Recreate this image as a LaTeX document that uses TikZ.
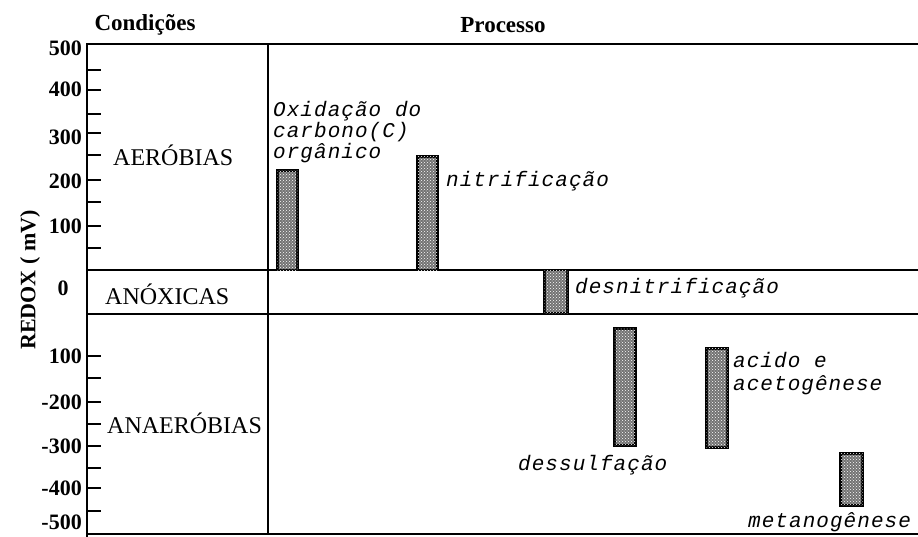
\documentclass[tikz,border=0pt]{standalone}
\usepackage{fontspec}
\setmainfont{Liberation Serif}
\newfontfamily\procfont[LetterSpace=5]{Liberation Mono}
\usetikzlibrary{patterns}

\tikzset{
  frame/.style={line width=2pt},
  tickline/.style={line width=2pt},
  bar/.style={draw, line width=2.6pt, fill=black!55,
    postaction={pattern=crosshatch dots, pattern color=white}},
  ticklabel/.style={anchor=east, inner sep=0pt, font=\fontsize{22}{22}\selectfont\bfseries},
  header/.style={inner sep=0pt, font=\fontsize{23}{23}\selectfont\bfseries},
  region/.style={anchor=west, inner sep=0pt, font=\fontsize{24}{24}\selectfont},
  proc/.style={anchor=west, inner sep=0pt, align=left, font=\fontsize{21}{19.5}\procfont\itshape},
}

\begin{document}
\begin{tikzpicture}[x=1pt, y=-1pt]
    \useasboundingbox (0,0) rectangle (918,536);

    % frame
    \draw[frame] (918,44) -- (87,44) -- (87,540);
    \draw[frame] (268,44) -- (268,534);
    \draw[frame] (87,270) -- (918,270);
    \draw[frame] (87,314) -- (918,314);
    \draw[frame] (87,534) -- (918,534);

    % ticks
    \foreach \y in {70,90,114,133,155,180,202,226,248,356,378,402,424,446,468,488,511}
      \draw[tickline] (87,\y) -- (101,\y);

    % axis labels
    \foreach \y/\t in {48/500, 89/400, 137/300, 181/200, 226/100, 356/100,
                       402/-200, 446/-300, 488/-400, 522/-500}
      \node[ticklabel] (lab\y) at (82,\y) {\t};
    \node[ticklabel, anchor=center] (labzero) at (63,288) {0};
    \node[ticklabel, anchor=center, rotate=90] (redox) at (30,280) {REDOX ( mV)};

    % headers
    \node[header] (cond) at (145,25) {Condições};
    \node[header] (proc) at (503,25) {Processo};

    % conditions
    \node[region] (aer) at (113,155) {AERÓBIAS};
    \node[region] (anox) at (105,294) {ANÓXICAS};
    \node[region] (anaer) at (107,423) {ANAERÓBIAS};

    % bars
    \draw[bar] (277.5,170.5) rectangle (297.5,270);
    \draw[bar] (417.5,156.5) rectangle (437.5,270);
    \draw[bar] (544.5,270) rectangle (567.5,313);
    \draw[bar] (614.5,328.5) rectangle (635.5,445.5);
    \draw[bar] (706.5,348.5) rectangle (727.5,447.5);
    \draw[bar] (840.5,453.5) rectangle (862.5,505.5);

    % processes
    \node[proc] (oxid) at (273,132) {Oxidação do\\carbono(C)\\orgânico};
    \node[proc] (nitr) at (446,181) {nitrificação};
    \node[proc] (desn) at (575,288) {desnitrificação};
    \node[proc] (dess) at (518,465) {dessulfação};
    \node[proc, font=\fontsize{21}{23}\procfont\itshape] (acid) at (733,373.5) {acido e\\acetogênese};
    \node[proc] (meta) at (748,522) {metanogênese};
\end{tikzpicture}
\end{document}
